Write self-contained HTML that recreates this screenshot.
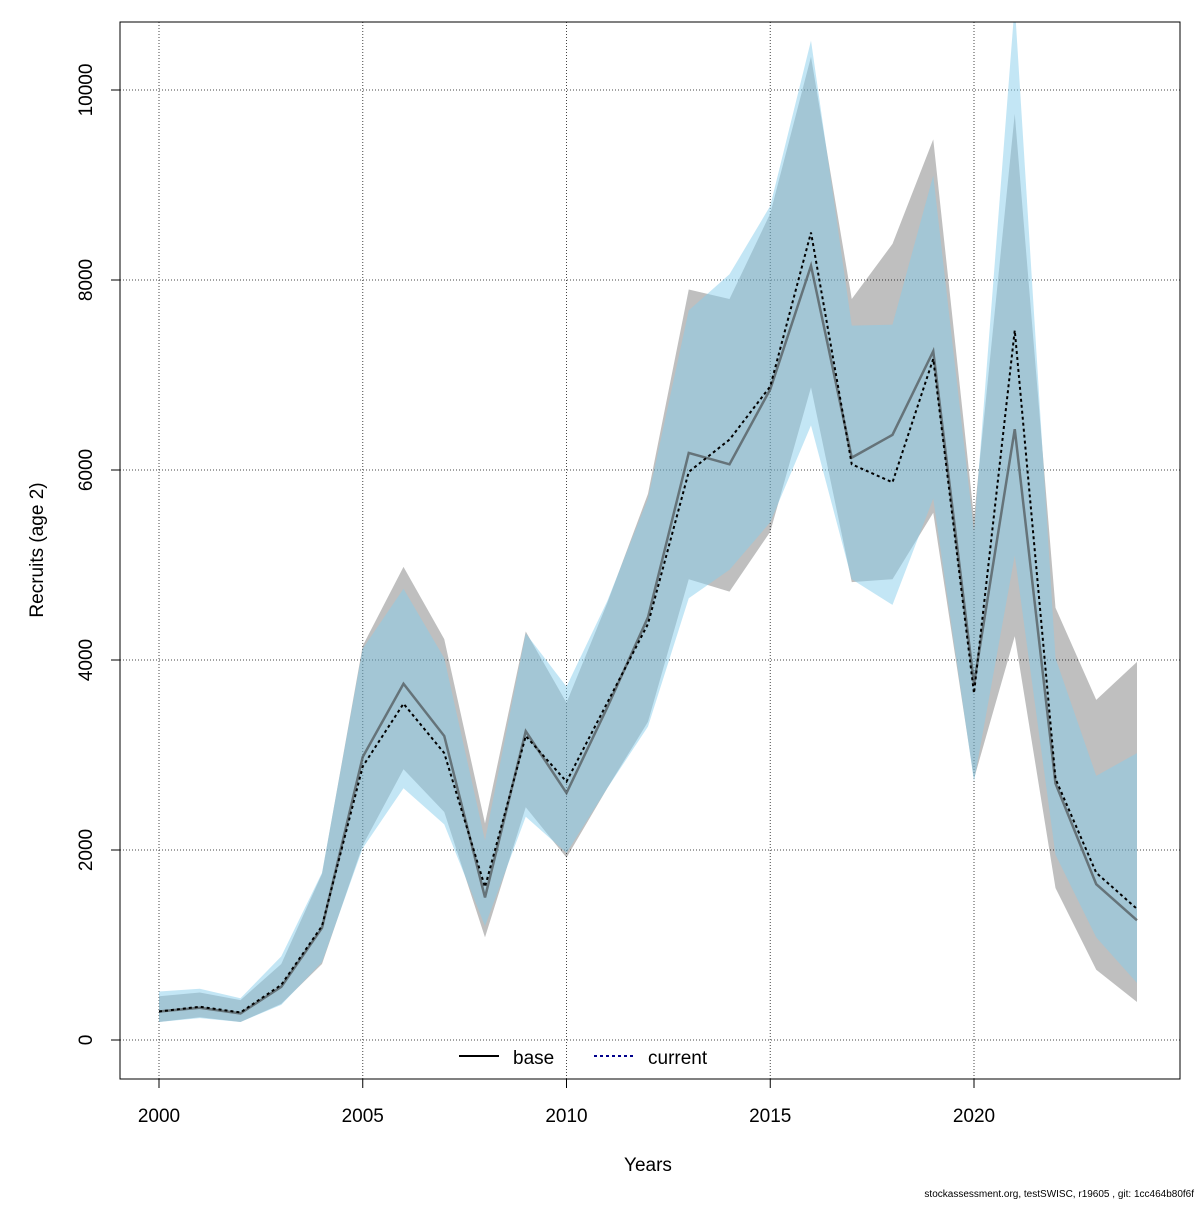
<!DOCTYPE html>
<html><head><meta charset="utf-8"><style>
body{margin:0;background:#fff}
svg{font-family:"Liberation Sans",sans-serif}
</style></head><body>
<svg id="chart" width="1200" height="1200" xmlns="http://www.w3.org/2000/svg">
<defs><clipPath id="clip"><rect x="120" y="22" width="1060" height="1057"/></clipPath></defs>
<rect width="1200" height="1200" fill="#fff"/>
<g id="grid"></g>
<g id="series" clip-path="url(#clip)"></g>
<rect x="120" y="22" width="1060" height="1057" fill="none" stroke="#000"/>
<g id="axes"></g>
<text x="648" y="1171" font-size="19" text-anchor="middle">Years</text>
<text transform="translate(43,550) rotate(-90)" font-size="19" text-anchor="middle">Recruits (age 2)</text>
<g>
<g><line x1="459" y1="1056" x2="499" y2="1056" stroke="#000" stroke-width="2"/><text x="513" y="1064" font-size="19">base</text></g>
<g><line x1="594" y1="1056" x2="633" y2="1056" stroke="#00008b" stroke-width="2" stroke-dasharray="3,3"/><text x="648" y="1064" font-size="19">current</text></g>
</g>
<text x="1194" y="1197" font-size="10" text-anchor="end">stockassessment.org, testSWISC, r19605 , git: 1cc464b80f6f</text>
</svg>
<script>
const years=[2000,2001,2002,2003,2004,2005,2006,2007,2008,2009,2010,2011,2012,2013,2014,2015,2016,2017,2018,2019,2020,2021,2022,2023,2024];
const baseEst=[300,340,280,560,1180,2980,3750,3200,1500,3250,2600,3500,4450,6180,6060,6850,8150,6130,6370,7250,3750,6430,2700,1640,1260];
const baseLow=[190,240,190,380,800,2050,2850,2400,1080,2450,1920,2650,3350,4850,4720,5350,6870,4820,4850,5550,2750,4250,1600,740,400];
const baseHigh=[460,500,420,800,1750,4150,4980,4220,2280,4300,3550,4600,5750,7900,7800,8700,10350,7800,8380,9480,5500,9750,4550,3580,3980];
const curEst=[300,350,290,580,1200,2880,3540,3020,1610,3200,2720,3550,4380,5980,6320,6880,8500,6060,5870,7170,3650,7470,2750,1760,1380];
const curLow=[190,230,190,370,820,2020,2650,2270,1200,2350,1970,2650,3300,4650,4950,5450,6470,4850,4580,5700,2720,5100,1950,1080,600];
const curHigh=[510,540,440,880,1760,4120,4750,4020,2100,4280,3720,4620,5700,7680,8060,8780,10520,7520,7530,9100,5350,10900,4020,2780,3020];
const xTicks=[2000,2005,2010,2015,2020];
const yTicks=[0,2000,4000,6000,8000,10000];
const X=v=>159+(v-2000)*40.75;
const Y=v=>1040-v*0.095;
const NS="http://www.w3.org/2000/svg";
function mk(tag,attrs,parent){const e=document.createElementNS(NS,tag);for(const k in attrs)e.setAttribute(k,attrs[k]);parent.appendChild(e);return e;}
const grid=document.getElementById('grid'),axes=document.getElementById('axes'),ser=document.getElementById('series');
xTicks.forEach(t=>{
 const l=mk('line',{x1:X(t),x2:X(t),y1:22,y2:1079,stroke:'#444','stroke-dasharray':'1,2'},grid);
 
 
 const tk=mk('line',{x1:X(t),x2:X(t),y1:1079,y2:1088,stroke:'#000'},axes);
 
 
 const tx=mk('text',{x:X(t),y:1122,'font-size':19,'text-anchor':'middle'},axes);tx.textContent=t;
 
 
});
yTicks.forEach(t=>{
 const l=mk('line',{x1:120,x2:1180,y1:Y(t),y2:Y(t),stroke:'#444','stroke-dasharray':'1,2'},grid);
 
 
 const tk=mk('line',{x1:111,x2:120,y1:Y(t),y2:Y(t),stroke:'#000'},axes);
 
 
 const tx=mk('text',{transform:`translate(92,${Y(t)}) rotate(-90)`,'font-size':19,'text-anchor':'middle'},axes);tx.textContent=t;
 
 
});
function band(lo,hi,fill,name){
 let d='M'+years.map((y,i)=>X(y)+','+Y(hi[i])).join(' L');
 d+=' L'+years.map((y,i)=>X(y)+','+Y(lo[i])).reverse().join(' L')+' Z';
 const p=mk('path',{d:d,fill:fill},ser);
 
 
}
function line(v,attrs,name){
 const p=mk('polyline',Object.assign({points:years.map((y,i)=>X(y)+','+Y(v[i])).join(' '),fill:'none'},attrs),ser);
 
 
}
band(baseLow,baseHigh,'rgba(0,0,0,0.25)','base-confidence-band');
band(curLow,curHigh,'rgba(135,206,235,0.5)','current-confidence-band');
line(baseEst,{stroke:'rgba(60,60,60,0.6)','stroke-width':2.5},'base-line');
line(curEst,{stroke:'#000','stroke-width':2,'stroke-dasharray':'3,3'},'current-line');
</script>
</body></html>
